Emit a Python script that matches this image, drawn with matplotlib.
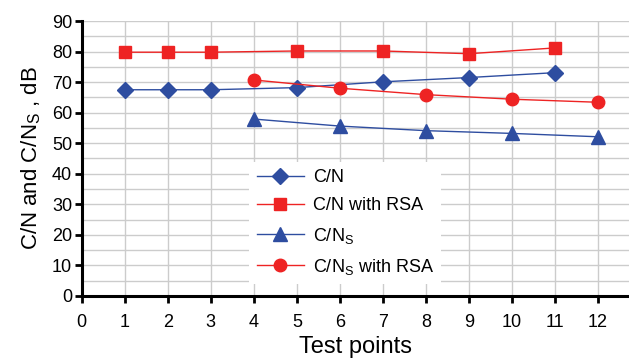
import numpy as np
import matplotlib
matplotlib.use('Agg')
import matplotlib.pyplot as plt

plt.rcParams['font.family'] = ['Liberation Sans', 'DejaVu Sans']

BLUE = '#2E4DA0'
RED = '#EE2323'

x_odd = [1, 2, 3, 5, 7, 9, 11]
x_even = [4, 6, 8, 10, 12]
cn = [67.5, 67.5, 67.5, 68.2, 70.1, 71.5, 73.1]
cn_rsa = [79.8, 79.8, 79.8, 80.2, 80.2, 79.3, 81.2]
cns = [57.9, 55.6, 54.1, 53.2, 52.1]
cns_rsa = [70.7, 68.0, 65.9, 64.4, 63.4]

fig = plt.figure(figsize=(6.29, 3.63), dpi=100)
ax = fig.add_axes([0.130, 0.185, 0.870, 0.757])

ax.plot(x_odd, cn, color=BLUE, lw=1, marker='D', ms=8.5, label='C/N')
ax.plot(x_odd, cn_rsa, color=RED, lw=1, marker='s', ms=9, label='C/N with RSA')
ax.plot(x_even, cns, color=BLUE, lw=1, marker='^', ms=10, label='C/N$_\\mathregular{S}$')
ax.plot(x_even, cns_rsa, color=RED, lw=1, marker='o', ms=9, label='C/N$_\\mathregular{S}$ with RSA')

ax.set_xlim(0, 12.72)
ax.set_ylim(0, 90)
ax.set_xticks(np.arange(0, 13))
ax.set_yticks(np.arange(0, 91, 10))
ax.set_yticks(np.arange(5, 90, 10), minor=True)
ax.grid(True, which='both', color='#cccccc', lw=1)
ax.set_axisbelow(True)

for s in ['top', 'right']:
    ax.spines[s].set_visible(False)
for s in ['left', 'bottom']:
    ax.spines[s].set_linewidth(2.2)
ax.tick_params(which='major', direction='out', length=5, width=2, labelsize=13)
ax.tick_params(which='minor', length=0)
ax.tick_params(axis='x', pad=8)
ax.tick_params(axis='y', pad=2)

ax.set_xlabel('Test points', fontsize=17, labelpad=4)
ax.set_ylabel('C/N and C/N$_\\mathregular{S}$ , dB', fontsize=16, labelpad=6)

leg = ax.legend(loc='upper left', bbox_to_anchor=(0.29, 0.52), fontsize=13,
                frameon=True, fancybox=False, edgecolor='none', framealpha=1,
                handlelength=2.6, handletextpad=0.5, labelspacing=0.62, borderpad=0.4)

fig.savefig('out.png', dpi=100)
